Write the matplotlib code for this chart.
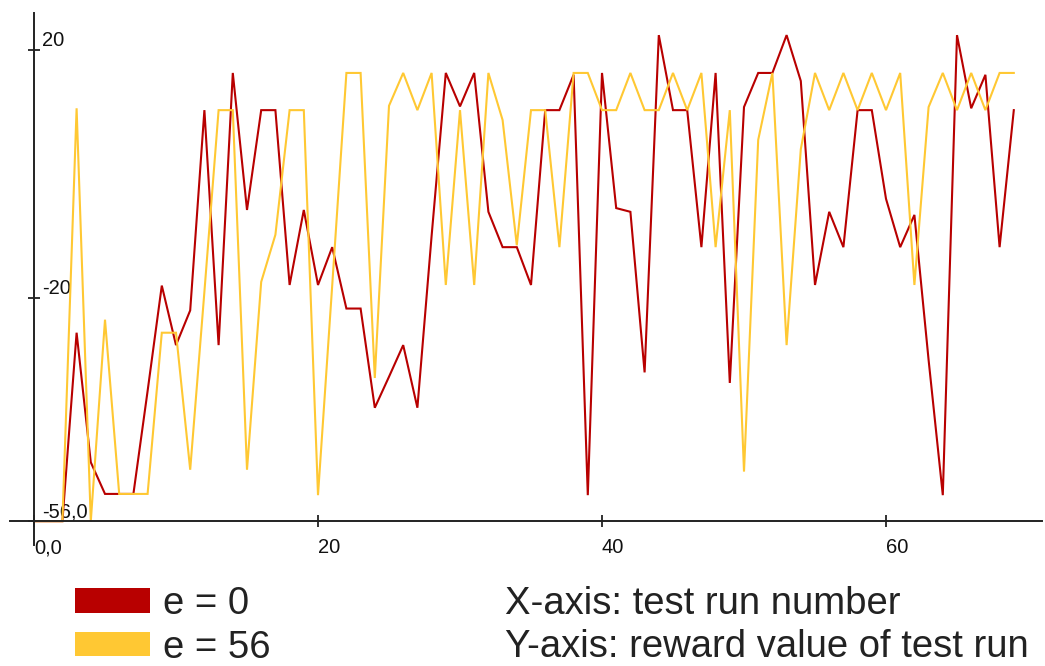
import matplotlib
matplotlib.use("Agg")
import matplotlib.pyplot as plt
from matplotlib.patches import Patch

# ---------------- data ----------------
run = list(range(70))
reward_e0 = [-56, -56, -56, -25.6, -46.5, -51.6, -51.6, -51.6, -35, -18,
             -27.6, -22, 10.3, -27.6, 16.3, -5.8, 10.3, 10.3, -17.9, -5.8,
             -17.9, -11.8, -21.7, -21.7, -37.7, -32.7, -27.6, -37.7, -10, 16.3,
             10.9, 16.3, -6.1, -11.8, -11.8, -17.9, 10.3, 10.3, 16, -51.8,
             16.3, -5.5, -6.1, -32, 22.4, 10.3, 10.3, -11.8, 16.3, -33.7,
             10.8, 16.3, 16.3, 22.4, 15, -17.9, -6.1, -11.8, 10.3, 10.3,
             -4, -11.8, -6.6, -30, -51.8, 22.4, 10.6, 16, -11.8, 10.3]
reward_e56 = [-56, -56, -56, 10.6, -56, -23.5, -51.6, -51.6, -51.6, -25.6,
              -25.6, -47.7, -19, 10.3, 10.3, -47.7, -17.4, -9.8, 10.3, 10.3,
              -51.8, -18, 16.3, 16.3, -32.9, 11, 16.3, 10.3, 16.3, -17.9,
              10.3, -17.9, 16.3, 8.7, -11.5, 10.3, 10.3, -11.8, 16.3, 16.3,
              10.3, 10.3, 16.3, 10.3, 10.3, 16.3, 10.3, 16.3, -11.8, 10.3,
              -48, 5.5, 16.3, -27.6, 4, 16.3, 10.3, 16.3, 10.3, 16.3,
              10.3, 16.3, -17.9, 10.8, 16.3, 10.3, 16.3, 10.3, 16.3, 16.3]
series_labels = ["e = 0", "e = 56"]
x_ticks = [0, 20, 40, 60]
x_tick_labels = ["0,0", "20", "40", "60"]
y_ticks = [20, -20, -56]
y_tick_labels = ["20", "-20", "-56,0"]
axis_notes = ["X-axis: test run number", "Y-axis: reward value of test run"]

# ---------------- style ----------------
RED = "#B80000"
YELLOW = "#FFC833"
AXIS = "#222222"
FONT = ["Liberation Sans", "DejaVu Sans"]
plt.rcParams["font.family"] = FONT

W, H = 1045, 666
fig = plt.figure(figsize=(W / 100, H / 100), dpi=100)
fig.patch.set_facecolor("white")
ax = fig.add_axes([0, 0, 1, 1])
ax.set_facecolor("white")

# pixel calibration of the original chart
x0_px, px_per_x = 34.0, 14.2
y0_px, px_per_y = 174.0, 6.2
ax.set_xlim(-x0_px / px_per_x, (W - x0_px) / px_per_x)
ax.set_ylim((y0_px - H) / px_per_y, y0_px / px_per_y)

ax.plot(run, reward_e0, color=RED, lw=1.5, solid_joinstyle="miter", zorder=3)
ax.plot(run, reward_e56, color=YELLOW, lw=1.5, solid_joinstyle="miter", zorder=4)

for s in ("top", "right"):
    ax.spines[s].set_visible(False)
ax.spines["left"].set_position(("data", 0))
ax.spines["left"].set_bounds((y0_px - 545) / px_per_y, (y0_px - 13) / px_per_y)
ax.spines["bottom"].set_position(("data", -56))
ax.spines["bottom"].set_bounds((10 - x0_px) / px_per_x, (1042 - x0_px) / px_per_x)
for s in ("left", "bottom"):
    ax.spines[s].set_color(AXIS)
    ax.spines[s].set_linewidth(1.4)
    ax.spines[s].set_zorder(5)

ax.set_xticks(x_ticks, x_tick_labels)
ax.set_yticks(y_ticks, y_tick_labels)
ax.tick_params(axis="both", direction="inout", length=9, width=1.3,
               color=AXIS, labelcolor="#111111", labelsize=14.5)
ax.tick_params(axis="y", pad=-10.3)
ax.tick_params(axis="x", pad=7.7)
for lab in ax.get_yticklabels():
    lab.set_ha("left")
    lab.set_va("bottom")
for lab in ax.get_xticklabels():
    lab.set_ha("left")
    lab.set_va("top")

# legend
fs = 27.5
fs_px = fs * 100 / 72
handles = [Patch(facecolor=RED, edgecolor="none"),
           Patch(facecolor=YELLOW, edgecolor="none")]
fig.legend(handles, series_labels, loc="upper left",
           bbox_to_anchor=(75 / W, 1 - 586 / H), frameon=False,
           fontsize=fs, handlelength=75 / fs_px, handleheight=23 / fs_px,
           handletextpad=13 / fs_px, borderpad=0, borderaxespad=0,
           labelspacing=0.2, labelcolor="#222222")

fig.text(505 / W, 1 - 614 / H, axis_notes[0], fontsize=fs, color="#222222",
         ha="left", va="baseline")
fig.text(505 / W, 1 - 657 / H, axis_notes[1], fontsize=fs, color="#222222",
         ha="left", va="baseline")

fig.savefig("out.png", dpi=100, facecolor="white")
